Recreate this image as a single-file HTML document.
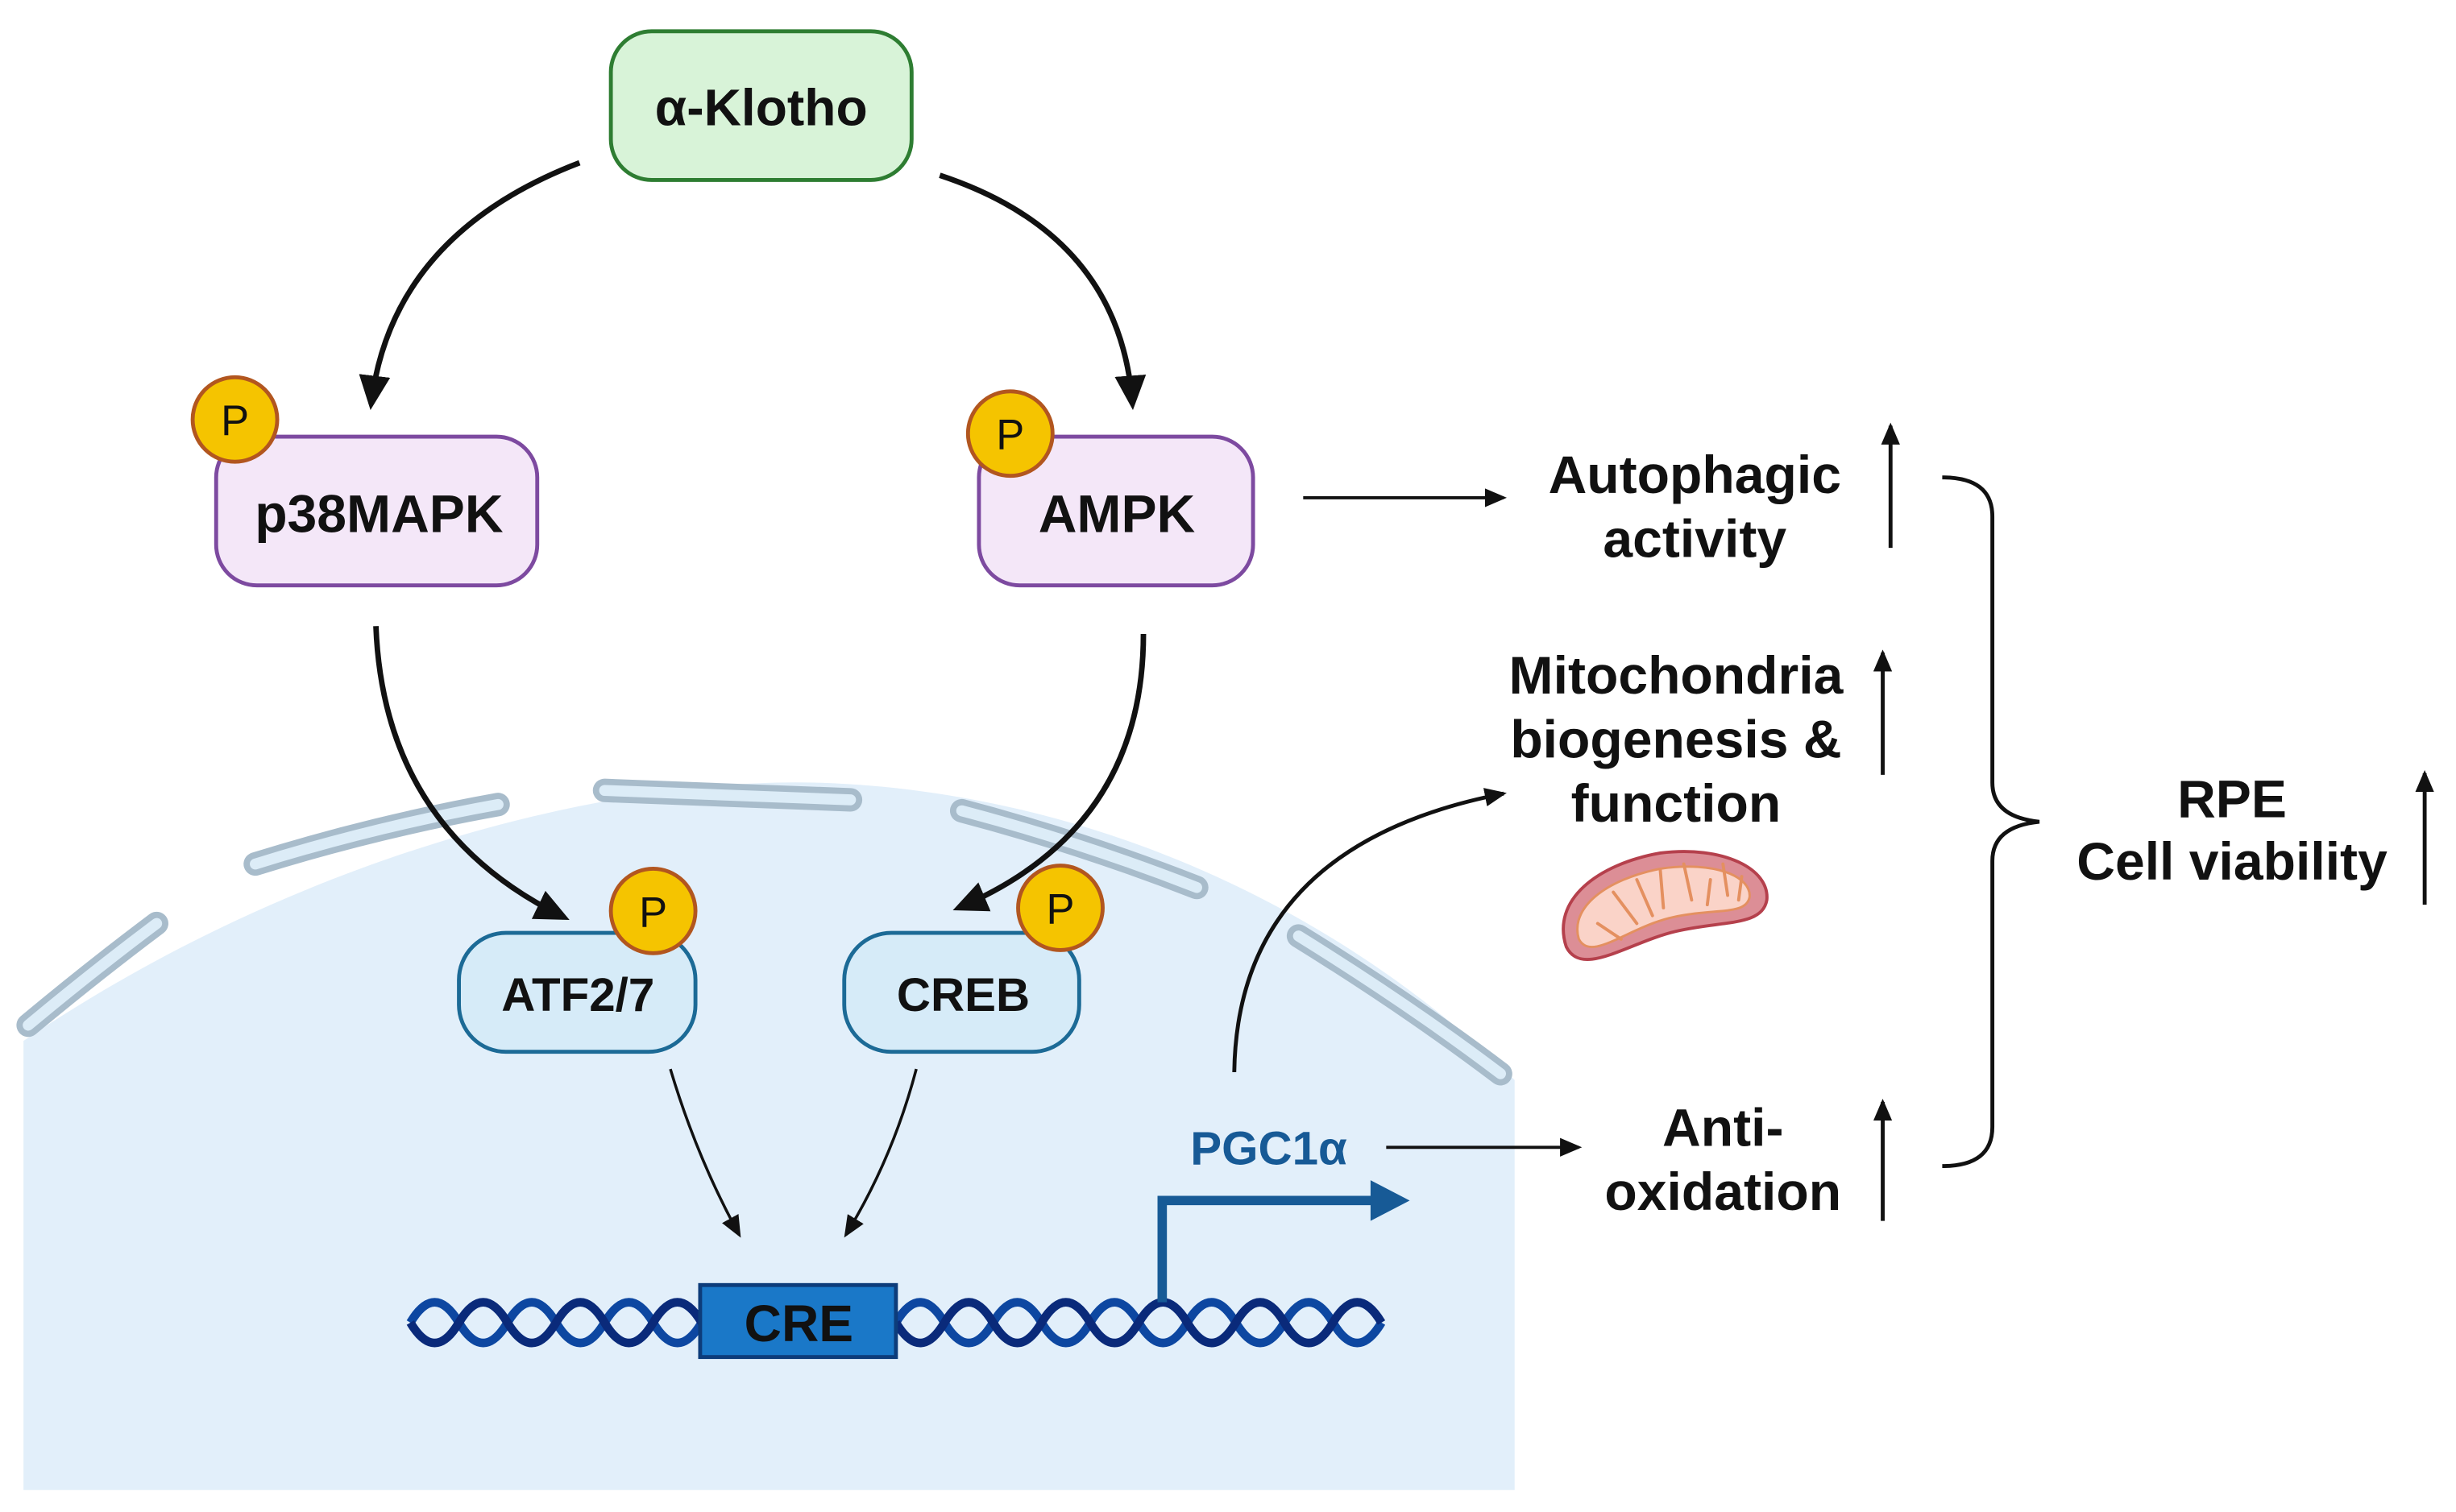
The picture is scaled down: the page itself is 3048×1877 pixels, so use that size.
<!DOCTYPE html>
<html><head><meta charset="utf-8"><style>
html,body{margin:0;padding:0;background:#fff;}
svg{display:block;}
text{font-family:"Liberation Sans",sans-serif;font-weight:bold;}
</style></head><body>
<svg width="3048" height="1877" viewBox="0 0 1568 966" preserveAspectRatio="none" xmlns="http://www.w3.org/2000/svg">
<defs>
<marker id="ahb" markerWidth="22" markerHeight="20" refX="18" refY="10" orient="auto" markerUnits="userSpaceOnUse" viewBox="0 0 22 20"><path d="M0,0 L22,10 L0,20 Z" fill="#111"/></marker>
<marker id="ahs" markerWidth="14" markerHeight="12" refX="12" refY="6" orient="auto" markerUnits="userSpaceOnUse" viewBox="0 0 14 12"><path d="M0,0 L14,6 L0,12 Z" fill="#111"/></marker>
</defs>
<rect width="1568" height="966" fill="#fff"/>
<path d="M15,665 C200,540 400,497 520,500 C700,505 860,585 967,690 L967,952 L15,952 Z" fill="#e2effa"/>
<g stroke-linecap="round" fill="none">
<g stroke="#a8bccb" stroke-width="15">
<path d="M18,655 Q60,620 100,590"/>
<path d="M163,552 Q240,528 318,514"/>
<path d="M386,505 Q465,508 543,511"/>
<path d="M614,518 Q690,538 764,567"/>
<path d="M829,598 Q900,642 958,686"/>
</g>
<g stroke="#dcecf7" stroke-width="7">
<path d="M18,655 Q60,620 100,590"/>
<path d="M163,552 Q240,528 318,514"/>
<path d="M386,505 Q465,508 543,511"/>
<path d="M614,518 Q690,538 764,567"/>
<path d="M829,598 Q900,642 958,686"/>
</g>
</g>
<g fill="none" stroke="#111">
<path d="M370,104 Q250,150 237,258" stroke-width="3.5" marker-end="url(#ahb)"/>
<path d="M600,112 Q715,150 723,258" stroke-width="3.5" marker-end="url(#ahb)"/>
<path d="M240,400 Q245,530 360,586" stroke-width="3.5" marker-end="url(#ahb)"/>
<path d="M730,405 Q730,530 612,580" stroke-width="3.5" marker-end="url(#ahb)"/>
<path d="M428,683 Q445,740 472,789" stroke-width="1.8" marker-end="url(#ahs)"/>
<path d="M585,683 Q570,740 540,789" stroke-width="1.8" marker-end="url(#ahs)"/>
<path d="M832,318 L960,318" stroke-width="2" marker-end="url(#ahs)"/>
<path d="M885,733 L1008,733" stroke-width="2" marker-end="url(#ahs)"/>
<path d="M788,685 Q790,540 960,507" stroke-width="2.5" marker-end="url(#ahs)"/>
<path d="M1207,350 L1207,272" stroke-width="2.5" marker-end="url(#ahs)"/>
<path d="M1202,495 L1202,417" stroke-width="2.5" marker-end="url(#ahs)"/>
<path d="M1202,780 L1202,704" stroke-width="2.5" marker-end="url(#ahs)"/>
<path d="M1548,578 L1548,494" stroke-width="2.5" marker-end="url(#ahs)"/>
<path d="M1240,305 Q1272,305 1272,330 L1272,500 Q1272,522 1302,525 Q1272,528 1272,550 L1272,720 Q1272,745 1240,745" stroke-width="2.5"/>
</g>
<rect x="390" y="20" width="192" height="95" rx="26" fill="#d8f3d8" stroke="#2e7d32" stroke-width="2.5"/>
<text x="486" y="80" font-size="33" text-anchor="middle" fill="#111">α-Klotho</text>
<rect x="138" y="279" width="205" height="95" rx="26" fill="#f4e7f8" stroke="#7d4aa0" stroke-width="2.5"/>
<text x="242" y="340" font-size="34" text-anchor="middle" fill="#111">p38MAPK</text>
<rect x="625" y="279" width="175" height="95" rx="26" fill="#f4e7f8" stroke="#7d4aa0" stroke-width="2.5"/>
<text x="713" y="340" font-size="34" text-anchor="middle" fill="#111">AMPK</text>
<rect x="293" y="596" width="151" height="76" rx="30" fill="#d6ebf8" stroke="#1c6a96" stroke-width="2.5"/>
<text x="369" y="646" font-size="30" text-anchor="middle" fill="#111">ATF2/7</text>
<rect x="539" y="596" width="150" height="76" rx="30" fill="#d6ebf8" stroke="#1c6a96" stroke-width="2.5"/>
<text x="615" y="646" font-size="30" text-anchor="middle" fill="#111">CREB</text>
<g fill="#f5c400" stroke="#b2561f" stroke-width="2.5">
<circle cx="150" cy="268" r="27"/><circle cx="645" cy="277" r="27"/>
<circle cx="417" cy="582" r="27"/><circle cx="677" cy="580" r="27"/>
</g>
<g font-size="27" text-anchor="middle" fill="#111">
<text x="150" y="278" style="font-weight:normal">P</text><text x="645" y="287" style="font-weight:normal">P</text>
<text x="417" y="592" style="font-weight:normal">P</text><text x="677" y="590" style="font-weight:normal">P</text>
</g>
<g fill="none" stroke-width="5.5">
<path d="M262,845 q15.5,-26 31,0 t31,0 t31,0 t31,0 t31,0 t31,0" stroke="#0d47a1"/>
<path d="M262,845 q15.5,26 31,0 t31,0 t31,0 t31,0 t31,0 t31,0" stroke="#0a2a7a"/>
<path d="M572,845 q15.5,-26 31,0 t31,0 t31,0 t31,0 t31,0 t31,0 t31,0 t31,0 t31,0 t31,0" stroke="#0d47a1"/>
<path d="M572,845 q15.5,26 31,0 t31,0 t31,0 t31,0 t31,0 t31,0 t31,0 t31,0 t31,0 t31,0" stroke="#0a2a7a"/>
</g>
<rect x="447" y="821" width="125" height="46" fill="#1a78c8" stroke="#0d3c7a" stroke-width="2.5"/>
<text x="510" y="857" font-size="33" text-anchor="middle" fill="#111">CRE</text>
<path d="M742,832 L742,767 L878,767" fill="none" stroke="#175a96" stroke-width="6"/>
<path d="M875,754 L900,767 L875,780 Z" fill="#175a96"/>
<text x="810" y="744" font-size="30" text-anchor="middle" fill="#175a96">PGC1α</text>
<g font-size="34" text-anchor="middle" fill="#111">
<text x="1082" y="315">Autophagic</text><text x="1082" y="356">activity</text>
<text x="1070" y="443">Mitochondria</text><text x="1070" y="484">biogenesis &amp;</text><text x="1070" y="525">function</text>
<text x="1100" y="732">Anti-</text><text x="1100" y="773">oxidation</text>
<text x="1425" y="522">RPE</text><text x="1425" y="562">Cell viability</text>
</g>
<path d="M1000,605 C990,575 1020,552 1060,545 C1100,540 1130,555 1128,575 C1125,592 1100,588 1070,595 C1040,602 1010,625 1000,605 Z" fill="#dc8e96" stroke="#b5404c" stroke-width="2"/>
<path d="M1008,600 C1002,580 1025,562 1060,555 C1095,550 1118,560 1117,573 C1115,585 1095,580 1068,586 C1040,592 1016,615 1008,600 Z" fill="#fad3c8" stroke="#e49060" stroke-width="1.5"/>
<g stroke="#e49060" stroke-width="2" stroke-linecap="round">
<path d="M1020,590 L1035,600"/><path d="M1030,570 L1045,590"/><path d="M1045,562 L1055,585"/><path d="M1060,556 L1062,580"/><path d="M1075,552 L1080,575"/><path d="M1090,578 L1092,562"/><path d="M1100,552 L1103,572"/><path d="M1112,560 L1110,575"/>
</g>
</svg>
</body></html>
